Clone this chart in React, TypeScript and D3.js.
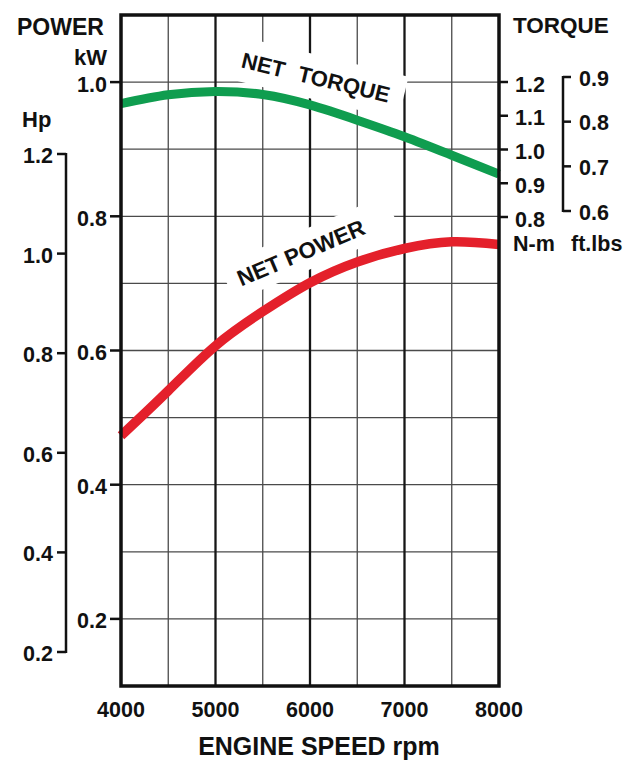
import React from "react";
import * as d3 from "d3";

// ---- data ----
const rpm = [4000, 4500, 5000, 5500, 6000, 6500, 7000, 7500, 8000];
const torqueNm = [1.136, 1.162, 1.172, 1.163, 1.132, 1.087, 1.038, 0.983, 0.927];
const powerKw = [0.473, 0.54, 0.607, 0.658, 0.701, 0.732, 0.752, 0.762, 0.758];

const xTicks = [4000, 5000, 6000, 7000, 8000];
const xGridMinor = [4500, 5500, 6500, 7500];
const xGridMajor = [5000, 6000, 7000];
const kwGrid = [0.2, 0.3, 0.4, 0.5, 0.6, 0.7, 0.8, 0.9, 1.0];
const kwTicks = [0.2, 0.4, 0.6, 0.8, 1.0];
const hpTicks = [0.2, 0.4, 0.6, 0.8, 1.0, 1.2];
const nmTicks = [0.8, 0.9, 1.0, 1.1, 1.2];
const ftlbTicks = [0.6, 0.7, 0.8, 0.9];

const FONT = "'Liberation Sans', Arial, Helvetica, sans-serif";
const GREEN = "#0f9d4f";
const RED = "#e4202b";

export default function App() {
  const L = 121, R = 499, T = 15, B = 686;
  const x = d3.scaleLinear().domain([4000, 8000]).range([L, R]);
  const kw = d3.scaleLinear().domain([0.1, 1.1]).range([B, T]);
  const hp = d3.scaleLinear().domain([0.2, 1.2]).range([652, 154]);
  const nm = d3.scaleLinear().domain([0.8, 1.2]).range([217, 82]);
  const ftlb = d3.scaleLinear().domain([0.6, 0.9]).range([211, 77]);

  const torqueLine = d3
    .line<number>()
    .x((_, i) => x(rpm[i]))
    .y((d) => nm(d))
    .curve(d3.curveNatural);
  const powerLine = d3
    .line<number>()
    .x((_, i) => x(rpm[i]))
    .y((d) => kw(d))
    .curve(d3.curveNatural);

  const fmt = d3.format(".1f");
  const HPX = 66;
  const FTX = 563;

  const label = (
    cx: number,
    cy: number,
    angle: number,
    box: [number, number, number, number],
    content: React.ReactNode
  ) => (
    <g transform={`translate(${cx},${cy}) rotate(${angle})`}>
      <rect x={box[0]} y={box[2]} width={box[1] - box[0]} height={box[3] - box[2]} fill="#fff" />
      {content}
    </g>
  );

  return (
    <svg
      width={633}
      height={768}
      style={{ position: "absolute", left: 0, top: 0, background: "#fff" }}
      fontFamily={FONT}
      fontWeight="bold"
    >
      <rect width={633} height={768} fill="#fff" />
      {/* grid */}
      {kwGrid.map((v) => (
        <line key={"h" + v} x1={L} x2={R} y1={kw(v)} y2={kw(v)} stroke="#4a4a4a" strokeWidth={1.3} />
      ))}
      {xGridMinor.map((v) => (
        <line key={"vm" + v} x1={x(v)} x2={x(v)} y1={T} y2={B} stroke="#4a4a4a" strokeWidth={1.3} />
      ))}
      {xGridMajor.map((v) => (
        <line key={"vM" + v} x1={x(v)} x2={x(v)} y1={T} y2={B} stroke="#161616" strokeWidth={2.3} />
      ))}

      {/* label knockouts + text */}
      {label(
        314,
        85,
        13.5,
        [-86, 90, -30, 14],
        <text x={0} y={0} textAnchor="middle" fontSize={22} fill="#111">
          NET<tspan dx={14}>TORQUE</tspan>
        </text>
      )}
      {label(
        304,
        260,
        -23,
        [-80, 100, -28, 11],
        <text x={0} y={0} textAnchor="middle" fontSize={22.5} fill="#111">
          NET POWER
        </text>
      )}

      {/* curves */}
      <path d={torqueLine(torqueNm) || ""} fill="none" stroke={GREEN} strokeWidth={9} />
      <path d={powerLine(powerKw) || ""} fill="none" stroke={RED} strokeWidth={9.5} />

      {/* frame */}
      <rect x={L} y={T} width={R - L} height={B - T} fill="none" stroke="#111" strokeWidth={3.5} />

      {/* kW axis (left of frame) */}
      {kwTicks.map((v) => (
        <g key={"kw" + v}>
          <line x1={L - 11} x2={L} y1={kw(v)} y2={kw(v)} stroke="#111" strokeWidth={2.5} />
          <text x={L - 14} y={kw(v) + 9.5} textAnchor="end" fontSize={21.5} fill="#111">
            {fmt(v)}
          </text>
        </g>
      ))}
      <text x={107} y={65} textAnchor="end" fontSize={22} fill="#111">kW</text>
      <text x={17} y={35} fontSize={23} fill="#111">POWER</text>

      {/* Hp axis */}
      <line x1={HPX} x2={HPX} y1={hp(1.2) - 1} y2={hp(0.2) + 1} stroke="#111" strokeWidth={2.5} />
      {hpTicks.map((v) => (
        <g key={"hp" + v}>
          <line x1={HPX - 9} x2={HPX} y1={hp(v)} y2={hp(v)} stroke="#111" strokeWidth={2.5} />
          <text x={HPX - 13} y={hp(v) + 9} textAnchor="end" fontSize={21.5} fill="#111">
            {fmt(v)}
          </text>
        </g>
      ))}
      <text x={22} y={127} fontSize={22} fill="#111">Hp</text>

      {/* N-m axis (right of frame) */}
      {nmTicks.map((v) => (
        <g key={"nm" + v}>
          <line x1={R} x2={R + 9} y1={nm(v)} y2={nm(v)} stroke="#111" strokeWidth={2.5} />
          <text x={R + 16} y={nm(v) + 9.5} fontSize={21.5} fill="#111">
            {fmt(v)}
          </text>
        </g>
      ))}

      {/* ft.lbs axis */}
      <line x1={FTX} x2={FTX} y1={ftlb(0.9) - 1} y2={ftlb(0.6) + 1} stroke="#111" strokeWidth={2.5} />
      {ftlbTicks.map((v) => (
        <g key={"ft" + v}>
          <line x1={FTX} x2={FTX + 8} y1={ftlb(v)} y2={ftlb(v)} stroke="#111" strokeWidth={2.5} />
          <text x={FTX + 16} y={ftlb(v) + 8.5} fontSize={21.5} fill="#111">
            {fmt(v)}
          </text>
        </g>
      ))}
      <text x={513} y={33} fontSize={22.5} fill="#111">TORQUE</text>
      <text x={513} y={251} fontSize={21.5} fill="#111">N-m</text>
      <text x={571} y={251} fontSize={21.5} fill="#111">ft.lbs</text>

      {/* x axis labels */}
      {xTicks.map((v) => (
        <text key={"x" + v} x={x(v)} y={717} textAnchor="middle" fontSize={21.5} fill="#111">
          {v}
        </text>
      ))}
      <text x={319} y={755} textAnchor="middle" fontSize={25} fill="#111">
        ENGINE SPEED rpm
      </text>
    </svg>
  );
}
